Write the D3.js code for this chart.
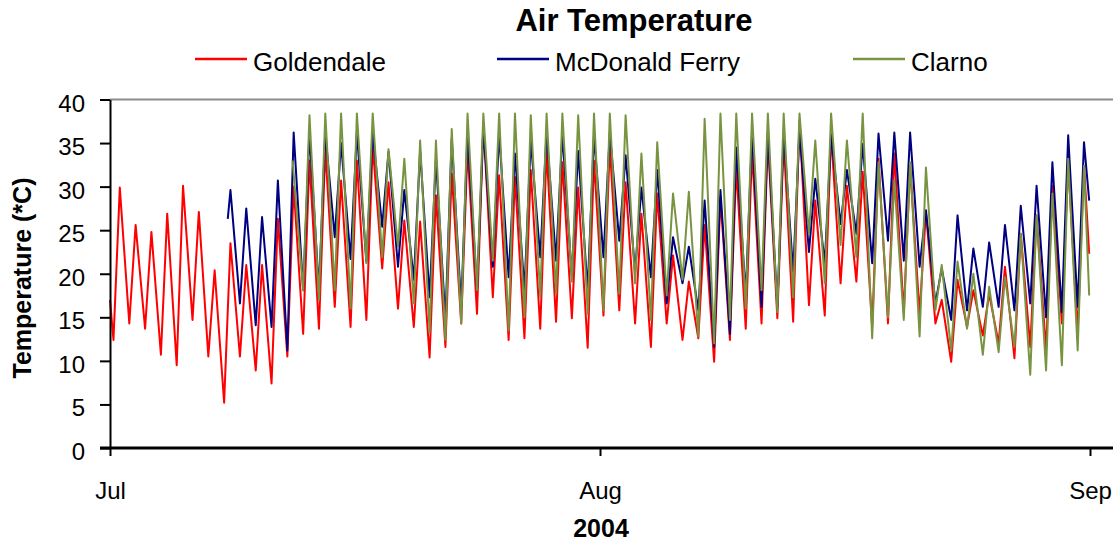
<!DOCTYPE html>
<html>
<head>
<meta charset="utf-8">
<script src="https://cdn.jsdelivr.net/npm/d3@7"></script>
<style>
  html, body { margin: 0; padding: 0; background: #fff; }
  svg { display: block; font-family: "Liberation Sans", Arial, sans-serif; }
</style>
</head>
<body>
<div id="chart"></div>
<script>
// Air temperature, Jul-Aug 2004: daily low / high (deg C)
// index = day of period, day 0 = 1 Jul 2004; null = no record that day

const goldendaleMin = [12.4, 14.3, 13.7, 10.7, 9.5, 14.7, 10.5, 5.2, 10.5, 8.9,
  7.4, 10.5, 13.1, 13.7, 16.2, 13.9, 14.7, 20.6, 16.0, 13.9,
  10.4, 11.6, 14.3, 15.4, 17.3, 12.4, 12.6, 13.7, 14.5, 14.9,
  11.5, 15.2, 15.8, 14.3, 11.6, 14.3, 12.4, 12.6, 9.9, 12.4,
  13.7, 14.3, 14.9, 14.5, 16.4, 15.2, 18.9, 19.1, 13.9, 14.3,
  15.5, 15.4, 14.3, 9.9, 13.9, 12.9, 12.0, 10.3, 11.6, 11.2,
  14.3, 13.1];
const goldendaleMax = [29.9, 25.6, 24.8, 26.9, 30.1, 27.1, 20.4, 23.5, 21.0, 21.0,
  26.3, 30.0, 33.0, 34.3, 30.7, 33.0, 34.7, 30.5, 26.1, 26.0,
  29.0, 31.5, 34.3, 37.2, 31.3, 31.1, 31.9, 34.1, 32.8, 29.9,
  33.0, 34.7, 30.5, 26.9, 29.2, 22.1, 19.1, 25.6, 28.8, 32.2,
  34.1, 35.3, 35.3, 37.6, 28.4, 36.1, 30.1, 31.7, 33.2, 33.8,
  32.4, 27.1, 17.0, 19.3, 18.1, 17.7, 20.8, 24.6, 26.7, 30.1,
  32.8, 32.4];

const mcdonaldMin = [null, null, null, null, null, null, null, null, 16.6, 14.1,
  13.9, 11.2, 18.1, 18.1, 24.2, 21.7, 21.4, 25.4, 20.8, 19.3,
  17.3, 14.7, 16.2, 18.1, 20.8, 19.6, 18.1, 21.9, 21.5, 19.6,
  18.1, 21.9, 23.8, 20.2, 19.6, 16.6, 18.9, 15.8, 11.6, 13.1,
  17.5, 16.2, 16.2, 20.2, 22.5, 21.2, 25.7, 24.6, 21.2, 23.8,
  21.5, 20.8, 16.6, 14.7, 15.8, 16.2, 16.2, 15.8, 16.6, 15.0,
  15.6, 16.2];
const mcdonaldMax = [null, null, null, null, null, null, null, 29.6, 27.5, 26.5,
  30.7, 36.2, 36.2, 36.2, 35.0, 36.2, 36.2, 34.0, 29.6, 34.1,
  33.2, 35.5, 36.2, 36.8, 36.1, 33.8, 35.3, 36.2, 36.1, 34.1,
  35.9, 36.2, 33.6, 29.9, 31.9, 24.2, 23.1, 28.4, 29.6, 34.5,
  36.2, 36.2, 36.2, 36.4, 30.9, 35.9, 31.9, 34.9, 36.1, 36.2,
  36.2, 27.3, 20.6, 26.7, 22.9, 23.6, 25.6, 27.8, 30.1, 32.8,
  35.9, 35.1];

const clarnoMin = [null, null, null, null, null, null, null, null, null, null,
  null, null, 18.1, 17.0, 18.1, 16.0, 21.2, 21.9, 23.1, 16.6,
  13.3, 12.4, 14.3, 18.1, 21.5, 13.5, 15.0, 17.3, 17.7, 19.1,
  15.4, 15.8, 17.7, 18.9, 14.7, 17.5, 19.3, 12.8, 12.0, 14.7,
  16.0, 18.1, 15.6, 17.3, 24.6, 18.9, 23.3, 21.9, 12.6, 15.0,
  14.7, 12.8, 15.8, 11.2, 13.7, 10.7, 11.0, 11.6, 8.4, 8.9,
  9.5, 11.2];
const clarnoMax = [null, null, null, null, null, null, null, null, null, null,
  null, null, 38.2, 38.4, 38.4, 38.4, 38.4, 34.3, 33.2, 35.3,
  35.3, 36.6, 38.4, 38.4, 38.4, 38.4, 38.2, 38.4, 38.4, 38.2,
  38.4, 38.4, 38.2, 33.8, 35.1, 29.2, 29.4, 37.8, 38.4, 38.4,
  38.4, 38.4, 38.4, 38.4, 35.3, 38.4, 35.3, 38.4, 32.8, 30.7,
  32.8, 32.2, 21.0, 21.4, 20.0, 18.5, 19.6, 24.6, 26.7, 29.2,
  33.2, 32.4];

// first and last readings of each record: [day, value]
const goldendaleEnds = [[0.0, 17.0], [61.95, 22.3]];
const mcdonaldEnds = [[7.45, 26.3], [61.95, 28.4]];
const clarnoEnds = [[11.55, 33.0], [61.95, 17.5]];

const seriesNames = ["Goldendale", "McDonald Ferry", "Clarno"];
const yTicks = [0, 5, 10, 15, 20, 25, 30, 35, 40];
const monthTicks = ["2004-07-01", "2004-08-01", "2004-09-01"];

const colors = ["#ff0000", "#000080", "#789440"];
const MIN_HOUR = 0.22, MAX_HOUR = 0.62; // fraction of the day for low / high

function toDate(day) {
  return new Date(Date.UTC(2004, 6, 1) + day * 864e5);
}

function buildPoints(mins, maxs, ends) {
  const pts = [{ t: toDate(ends[0][0]), v: ends[0][1] }];
  mins.forEach((mn, i) => {
    if (mn != null) pts.push({ t: toDate(i + MIN_HOUR), v: mn });
    if (maxs[i] != null) pts.push({ t: toDate(i + MAX_HOUR), v: maxs[i] });
  });
  pts.push({ t: toDate(ends[1][0]), v: ends[1][1] });
  return pts;
}

const series = [
  buildPoints(goldendaleMin, goldendaleMax, goldendaleEnds),
  buildPoints(mcdonaldMin, mcdonaldMax, mcdonaldEnds),
  buildPoints(clarnoMin, clarnoMax, clarnoEnds)
];

const width = 1113, height = 541;
const plot = { left: 110, right: 1090, top: 99.5, bottom: 448 };

const svg = d3.select("#chart").append("svg")
  .attr("width", width)
  .attr("height", height);

const x = d3.scaleUtc()
  .domain([new Date(monthTicks[0]), new Date(monthTicks[2])])
  .range([plot.left, plot.right]);

const y = d3.scaleLinear()
  .domain([0, 40])
  .range([plot.bottom, plot.top]);

// top border line at 40
svg.append("line")
  .attr("x1", plot.left).attr("x2", width)
  .attr("y1", y(40)).attr("y2", y(40))
  .attr("stroke", "#8c8c8c")
  .attr("stroke-width", 2);

// series lines
const line = d3.line()
  .x(d => x(d.t))
  .y(d => y(d.v));

svg.selectAll("path.series")
  .data(series)
  .join("path")
  .attr("class", "series")
  .attr("fill", "none")
  .attr("stroke", (d, i) => colors[i])
  .attr("stroke-width", 2)
  .attr("stroke-linejoin", "round")
  .attr("d", line);

// y axis
const yAxis = d3.axisLeft(y)
  .tickValues(yTicks)
  .tickSize(10)
  .tickSizeOuter(0)
  .tickPadding(15);

const gy = svg.append("g")
  .attr("transform", `translate(${plot.left},0)`)
  .call(yAxis);
gy.select(".domain").attr("stroke", "#000").attr("stroke-width", 2);
gy.selectAll(".tick line").attr("stroke", "#000").attr("stroke-width", 2);
gy.selectAll("text")
  .attr("dy", "0.48em")
  .style("font-size", "24px")
  .attr("fill", "#000");

// x axis
const xAxis = d3.axisBottom(x)
  .tickValues(monthTicks.map(s => new Date(s)))
  .tickFormat(d3.utcFormat("%b"))
  .tickSize(8)
  .tickSizeOuter(0)
  .tickPadding(26);

const gx = svg.append("g")
  .attr("transform", `translate(0,${plot.bottom})`)
  .call(xAxis);
gx.select(".domain").remove();
gx.selectAll(".tick line").attr("stroke", "#000").attr("stroke-width", 2);
gx.selectAll("text")
  .style("font-size", "24px")
  .attr("fill", "#000");

svg.append("line")
  .attr("x1", plot.left - 10).attr("x2", width)
  .attr("y1", plot.bottom).attr("y2", plot.bottom)
  .attr("stroke", "#000")
  .attr("stroke-width", 3);

// titles
svg.append("text")
  .attr("x", 634)
  .attr("y", 31)
  .attr("text-anchor", "middle")
  .style("font-size", "31px")
  .style("font-weight", "bold")
  .text("Air Temperature");

svg.append("text")
  .attr("transform", "translate(31,278) rotate(-90)")
  .attr("text-anchor", "middle")
  .style("font-size", "25px")
  .style("font-weight", "bold")
  .text("Temperature (*C)");

svg.append("text")
  .attr("x", 601)
  .attr("y", 537)
  .attr("text-anchor", "middle")
  .style("font-size", "25px")
  .style("font-weight", "bold")
  .text("2004");

// legend
const legendX = [195, 497, 853];
const legend = svg.append("g").selectAll("g")
  .data(seriesNames)
  .join("g")
  .attr("transform", (d, i) => `translate(${legendX[i]},59)`);

legend.append("line")
  .attr("x1", 0).attr("x2", 52)
  .attr("stroke", (d, i) => colors[i])
  .attr("stroke-width", 2.5);

legend.append("text")
  .attr("x", 58)
  .attr("y", 12)
  .style("font-size", "26px")
  .text(d => d);
</script>
</body>
</html>
